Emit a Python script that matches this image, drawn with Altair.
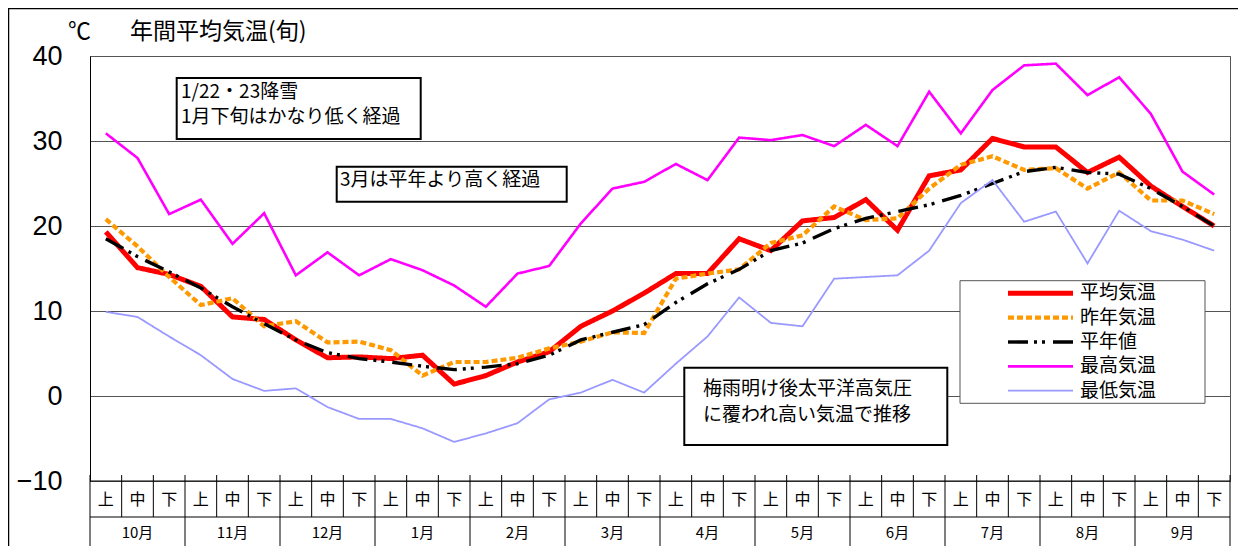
import altair as alt
import pandas as pd

# ---------------- data ----------------
months = ["10月", "11月", "12月", "1月", "2月", "3月", "4月", "5月", "6月", "7月", "8月", "9月"]
juns = ["上", "中", "下"]

series_names = ["平均気温", "昨年気温", "平年値", "最高気温", "最低気温"]
series_colors = ["#ff0000", "#ff9900", "#000000", "#ff00ff", "#9999ff"]
series_dash = [[1, 0], [6, 3], [20, 6, 3, 5, 3, 8], [1, 0], [1, 0]]
series_width = [5, 1.8, 2.2, 1.6, 2]

avg_temp = [19.3, 15.1, 14.3, 12.9, 9.3, 9.0, 6.6, 4.5, 4.6, 4.4, 4.8, 1.4,
            2.4, 4.0, 5.2, 8.2, 10.0, 12.1, 14.4, 14.4, 18.5, 17.1, 20.6, 21.0,
            23.1, 19.5, 25.9, 26.6, 30.3, 29.3, 29.3, 26.3, 28.1, 24.7, 22.3, 20.0]
last_year = [20.8, 17.6, 14.0, 10.7, 11.5, 8.2, 8.8, 6.3, 6.4, 5.4, 2.4, 4.0,
             4.0, 4.5, 5.6, 6.4, 7.5, 7.4, 13.8, 14.4, 14.9, 18.0, 18.9, 22.3,
             20.7, 20.9, 24.4, 27.2, 28.2, 26.6, 26.8, 24.4, 26.3, 23.0, 23.0, 21.4]
normal = [18.5, 16.4, 14.6, 12.7, 10.5, 8.5, 6.6, 5.1, 4.4, 4.0, 3.5, 3.1,
          3.4, 3.8, 4.8, 6.6, 7.5, 8.4, 11.0, 13.2, 14.9, 17.1, 18.0, 19.7,
          20.9, 21.7, 22.5, 23.6, 25.0, 26.4, 26.9, 26.3, 26.1, 24.4, 22.3, 20.0]
max_temp = [30.9, 28.0, 21.4, 23.1, 17.9, 21.5, 14.2, 16.9, 14.2, 16.1, 14.8, 13.0,
            10.5, 14.4, 15.3, 20.3, 24.4, 25.2, 27.3, 25.4, 30.4, 30.1, 30.7, 29.4,
            31.9, 29.4, 35.8, 30.9, 36.0, 38.9, 39.1, 35.4, 37.5, 33.2, 26.4, 23.7]
min_temp = [9.9, 9.3, 7.0, 4.8, 2.0, 0.6, 0.9, -1.3, -2.7, -2.7, -3.8, -5.4,
            -4.4, -3.2, -0.4, 0.4, 1.9, 0.4, 3.8, 7.0, 11.6, 8.6, 8.2, 13.8,
            14.0, 14.2, 17.1, 22.7, 25.4, 20.5, 21.7, 15.6, 21.8, 19.4, 18.4, 17.1]

y_ticks = [-10, 0, 10, 20, 30, 40]
unit_text = "℃"
title_text = "年間平均気温(旬)"
note1 = ["1/22・23降雪", "1月下旬はかなり低く経過"]
note2 = ["3月は平年より高く経過"]
note3 = ["梅雨明け後太平洋高気圧", "に覆われ高い気温で推移"]

# ---------------- layout ----------------
W, H = 1140, 425
JP = "Noto Sans CJK JP"
GRID = "#555555"
n = len(months) * len(juns)

rows = []
for s, vals in zip(series_names, [avg_temp, last_year, normal, max_temp, min_temp]):
    for i, v in enumerate(vals):
        rows.append({"idx": i, "series": s, "value": v})
df = pd.DataFrame(rows)

xs = alt.Scale(domain=[-0.5, n - 0.5], nice=False, zero=False)
ys = alt.Scale(domain=[-10, 40], nice=False, zero=False)
color_s = alt.Scale(domain=series_names, range=series_colors)
dash_s = alt.Scale(domain=series_names, range=series_dash)
width_s = alt.Scale(domain=series_names, range=series_width)

one = pd.DataFrame({"a": [0]})

frame = alt.Chart(one).mark_rect(fill="transparent", stroke="#000", strokeWidth=1.5).encode(
    x=alt.value(-81.5), x2=alt.value(W + 200), y=alt.value(-47.5), y2=alt.value(H + 200)
)

lines = alt.Chart(df).mark_line().encode(
    x=alt.X("idx:Q", scale=xs, axis=None),
    y=alt.Y("value:Q", scale=ys, axis=alt.Axis(
        values=y_ticks, grid=True, gridColor=GRID, gridWidth=1, tickSize=0,
        domain=True, domainColor="#000", domainWidth=1,
        labelFont="Liberation Sans", labelFontSize=27, labelColor="#000",
        labelPadding=28, title=None)),
    color=alt.Color("series:N", scale=color_s, legend=None),
    strokeDash=alt.StrokeDash("series:N", scale=dash_s, legend=None),
    strokeWidth=alt.StrokeWidth("series:O", scale=width_s, legend=None),
)

# bottom axis line
axis_line = alt.Chart(one).mark_rule(color="#000", strokeWidth=1).encode(
    x=alt.value(0), x2=alt.value(W), y=alt.value(H)
)

# category table
bounds = pd.DataFrame({"b": [k - 0.5 for k in range(n + 1)],
                       "edge": [k % 3 == 0 for k in range(n + 1)]})
jun_sep = alt.Chart(bounds).mark_rule(color="#000", strokeWidth=1).encode(
    x=alt.X("b:Q", scale=xs), y=alt.value(H - 6), y2=alt.value(H + 36)
)
month_sep = alt.Chart(bounds[bounds["edge"]]).mark_rule(color="#000", strokeWidth=1).encode(
    x=alt.X("b:Q", scale=xs), y=alt.value(H + 36), y2=alt.value(H + 90)
)
row_line = alt.Chart(one).mark_rule(color="#000", strokeWidth=1).encode(
    x=alt.value(0), x2=alt.value(W), y=alt.value(H + 36)
)
jun_df = pd.DataFrame({"idx": list(range(n)), "label": [juns[i % 3] for i in range(n)]})
jun_text = alt.Chart(jun_df).mark_text(font=JP, fontSize=16, color="#000", baseline="middle").encode(
    x=alt.X("idx:Q", scale=xs), y=alt.value(H + 19), text="label:N"
)
mon_df = pd.DataFrame({"idx": [3 * m + 1 for m in range(len(months))], "label": months})
mon_text = alt.Chart(mon_df).mark_text(font=JP, fontSize=15, color="#000", baseline="middle").encode(
    x=alt.X("idx:Q", scale=xs), y=alt.value(H + 52), text="label:N"
)

# titles
unit = alt.Chart(one).mark_text(font=JP, fontSize=23, color="#000", align="left", baseline="middle",
                                text=unit_text).encode(x=alt.value(-22), y=alt.value(-24))
title = alt.Chart(one).mark_text(font=JP, fontSize=23, color="#000", align="left", baseline="middle",
                                 text=title_text).encode(x=alt.value(40), y=alt.value(-24))


def note(lines_txt, x0, y0, x1, y1, tx, ty0, lh=25):
    layers = [alt.Chart(one).mark_rect(fill="white", stroke="#000", strokeWidth=2).encode(
        x=alt.value(x0), x2=alt.value(x1), y=alt.value(y0), y2=alt.value(y1))]
    for j, t in enumerate(lines_txt):
        layers.append(alt.Chart(one).mark_text(font=JP, fontSize=19, color="#000", align="left",
                                               baseline="middle", text=t).encode(
            x=alt.value(tx), y=alt.value(ty0 + j * lh)))
    return layers


notes = (note(note1, 86.7, 22, 330.7, 83, 91, 35.7)
         + note(note2, 246.7, 110.7, 476.7, 145.7, 250, 124)
         + note(note3, 594.3, 311.7, 857.3, 389, 613, 333, lh=26))

# legend (drawn with the same scales as the lines)
leg = [alt.Chart(one).mark_rect(fill="white", stroke="#555", strokeWidth=1).encode(
    x=alt.value(870), x2=alt.value(1115), y=alt.value(224.7), y2=alt.value(347.3))]
for i, s in enumerate(series_names):
    yy = 237.3 + 24.35 * i
    sd = pd.DataFrame({"series": [s]})
    leg.append(alt.Chart(sd).mark_rule().encode(
        x=alt.value(918), x2=alt.value(983), y=alt.value(yy),
        color=alt.Color("series:N", scale=color_s, legend=None),
        strokeDash=alt.StrokeDash("series:N", scale=dash_s, legend=None),
        strokeWidth=alt.StrokeWidth("series:O", scale=width_s, legend=None)))
    leg.append(alt.Chart(sd).mark_text(font=JP, fontSize=19, color="#000", align="left",
                                       baseline="middle").encode(
        x=alt.value(990), y=alt.value(yy), text="series:N"))

chart = alt.layer(
    frame, lines, axis_line, jun_sep, month_sep, row_line, jun_text, mon_text,
    unit, title, *notes, *leg
).properties(
    width=W, height=H,
    autosize=alt.AutoSizeParams(type="none"),
    padding={"left": 82, "top": 48, "right": 8, "bottom": 65},
).configure_view(stroke=GRID, strokeWidth=1)

chart.save("out.html", embed_options={"renderer": "svg", "actions": False})
